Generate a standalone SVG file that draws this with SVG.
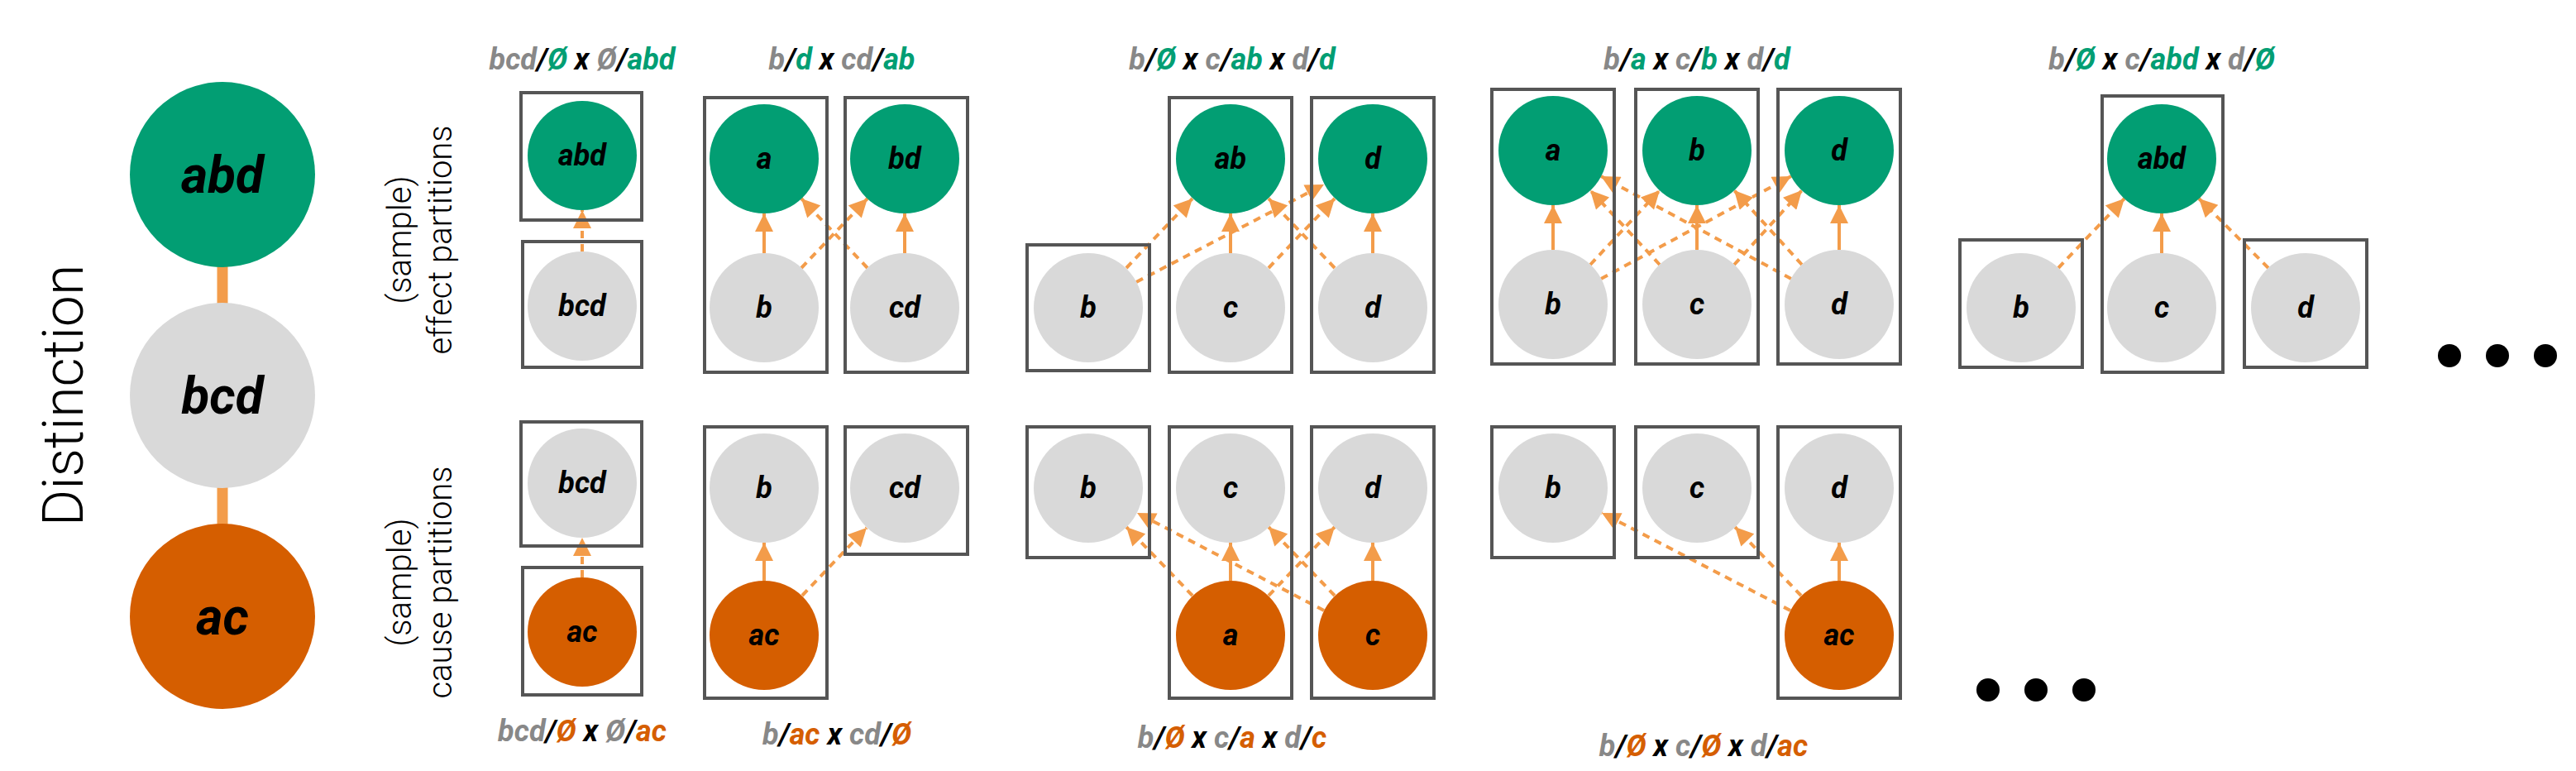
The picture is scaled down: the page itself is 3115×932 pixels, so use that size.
<svg xmlns="http://www.w3.org/2000/svg" width="3115" height="932" viewBox="0 0 3115 932">
<style>
.bx{fill:none;stroke:#555;stroke-width:4}
.g{fill:#029E73}.e{fill:#D9D9D9}.o{fill:#D55E00}
.nt{font-family:Roboto,"Liberation Sans",sans-serif;font-weight:bold;font-style:italic;font-size:36px;text-anchor:middle;fill:#000}
.big{font-size:62px}
.lb{font-family:Roboto,"Liberation Sans",sans-serif;font-weight:bold;font-style:italic;font-size:36px;text-anchor:middle;fill:#000}
.k{fill:#888}.G{fill:#029E73}.O{fill:#D55E00}
.side{font-family:Roboto,"Liberation Sans",sans-serif;font-weight:300;fill:#000;text-anchor:middle}
.s{stroke:#F39C4A;stroke-width:4;fill:none;marker-end:url(#ah)}
.d{stroke-dasharray:9 7}
</style>
<defs>
<marker id="ah" viewBox="0 0 10 10" markerUnits="userSpaceOnUse" markerWidth="24" markerHeight="22" refX="10" refY="5" orient="auto"><path d="M0,0 L10,5 L0,10 z" fill="#F39C4A"/></marker>
</defs>
<rect width="3115" height="932" fill="#fff"/>
<text class="side" font-size="68" transform="translate(100,478) rotate(-90)">Distinction</text>
<text class="side" font-size="40" transform="translate(497,290) rotate(-90)">(sample)</text>
<text class="side" font-size="40" transform="translate(546,290) rotate(-90)">effect partitions</text>
<text class="side" font-size="40" transform="translate(497,704) rotate(-90)">(sample)</text>
<text class="side" font-size="40" transform="translate(546,704) rotate(-90)">cause partitions</text>

<g id="connectors">
<line x1="269" y1="320" x2="269" y2="368" stroke="#F39C4A" stroke-width="13"/>
<line x1="269" y1="588" x2="269" y2="635" stroke="#F39C4A" stroke-width="13"/>
<line class="s d" x1="704" y1="304" x2="704" y2="254"/>
<line class="s" x1="924" y1="306" x2="924" y2="258"/>
<line class="s" x1="1094" y1="306" x2="1094" y2="258"/>
<line class="s d" x1="969" y1="324" x2="1049" y2="240"/>
<line class="s d" x1="1049" y1="324" x2="969" y2="240"/>
<line class="s" x1="1488" y1="306" x2="1488" y2="258"/>
<line class="s" x1="1660" y1="306" x2="1660" y2="258"/>
<line class="s d" x1="1362" y1="324" x2="1442" y2="240"/>
<line class="s d" x1="1374" y1="341" x2="1601" y2="223"/>
<line class="s d" x1="1534" y1="324" x2="1614" y2="240"/>
<line class="s d" x1="1614" y1="324" x2="1534" y2="240"/>
<line class="s" x1="1878" y1="302" x2="1878" y2="248"/>
<line class="s" x1="2052" y1="302" x2="2052" y2="248"/>
<line class="s" x1="2224" y1="302" x2="2224" y2="248"/>
<line class="s d" x1="1923" y1="320" x2="2007" y2="230"/>
<line class="s d" x1="2007" y1="320" x2="1923" y2="230"/>
<line class="s d" x1="2097" y1="320" x2="2179" y2="230"/>
<line class="s d" x1="2179" y1="320" x2="2097" y2="230"/>
<line class="s d" x1="1936" y1="337" x2="2166" y2="213"/>
<line class="s d" x1="2166" y1="337" x2="1936" y2="213"/>
<line class="s" x1="2614" y1="306" x2="2614" y2="258"/>
<line class="s d" x1="2489" y1="324" x2="2569" y2="240"/>
<line class="s d" x1="2743" y1="324" x2="2659" y2="240"/>
<line class="s d" x1="704" y1="698" x2="704" y2="650"/>
<line class="s" x1="924" y1="702" x2="924" y2="656"/>
<line class="s d" x1="970" y1="720" x2="1048" y2="638"/>
<line class="s" x1="1488" y1="702" x2="1488" y2="656"/>
<line class="s" x1="1660" y1="702" x2="1660" y2="656"/>
<line class="s d" x1="1442" y1="720" x2="1362" y2="637"/>
<line class="s d" x1="1601" y1="738" x2="1375" y2="620"/>
<line class="s d" x1="1534" y1="720" x2="1614" y2="637"/>
<line class="s d" x1="1614" y1="720" x2="1534" y2="637"/>
<line class="s" x1="2224" y1="702" x2="2224" y2="656"/>
<line class="s d" x1="2178" y1="720" x2="2098" y2="637"/>
<line class="s d" x1="2165" y1="738" x2="1937" y2="620"/>
</g>

<g id="distinction">
<circle class="g" cx="269" cy="211" r="112"/><text class="nt big" x="269" y="233">abd</text>
<circle class="e" cx="269" cy="478" r="112"/><text class="nt big" x="269" y="500">bcd</text>
<circle class="o" cx="269" cy="745" r="112"/><text class="nt big" x="269" y="767">ac</text>
</g>

<g id="labels">
<text class="lb" x="704" y="84"><tspan class="k">bcd</tspan>/<tspan class="G">Ø</tspan> x <tspan class="k">Ø</tspan>/<tspan class="G">abd</tspan></text>
<text class="lb" x="1018" y="84"><tspan class="k">b</tspan>/<tspan class="G">d</tspan> x <tspan class="k">cd</tspan>/<tspan class="G">ab</tspan></text>
<text class="lb" x="1490" y="84"><tspan class="k">b</tspan>/<tspan class="G">Ø</tspan> x <tspan class="k">c</tspan>/<tspan class="G">ab</tspan> x <tspan class="k">d</tspan>/<tspan class="G">d</tspan></text>
<text class="lb" x="2052" y="84"><tspan class="k">b</tspan>/<tspan class="G">a</tspan> x <tspan class="k">c</tspan>/<tspan class="G">b</tspan> x <tspan class="k">d</tspan>/<tspan class="G">d</tspan></text>
<text class="lb" x="2614" y="84"><tspan class="k">b</tspan>/<tspan class="G">Ø</tspan> x <tspan class="k">c</tspan>/<tspan class="G">abd</tspan> x <tspan class="k">d</tspan>/<tspan class="G">Ø</tspan></text>
<text class="lb" x="704" y="896"><tspan class="k">bcd</tspan>/<tspan class="O">Ø</tspan> x <tspan class="k">Ø</tspan>/<tspan class="O">ac</tspan></text>
<text class="lb" x="1012" y="900"><tspan class="k">b</tspan>/<tspan class="O">ac</tspan> x <tspan class="k">cd</tspan>/<tspan class="O">Ø</tspan></text>
<text class="lb" x="1490" y="904"><tspan class="k">b</tspan>/<tspan class="O">Ø</tspan> x <tspan class="k">c</tspan>/<tspan class="O">a</tspan> x <tspan class="k">d</tspan>/<tspan class="O">c</tspan></text>
<text class="lb" x="2060" y="914"><tspan class="k">b</tspan>/<tspan class="O">Ø</tspan> x <tspan class="k">c</tspan>/<tspan class="O">Ø</tspan> x <tspan class="k">d</tspan>/<tspan class="O">ac</tspan></text>
</g>

<g id="e1"><rect class="bx" x="630" y="112" width="146" height="154"/><circle class="g" cx="704" cy="188" r="66"/><text class="nt" x="704" y="200">abd</text>
<rect class="bx" x="632" y="292" width="144" height="152"/><circle class="e" cx="704" cy="370" r="66"/><text class="nt" x="704" y="382">bcd</text></g>
<g id="e2"><rect class="bx" x="852" y="118" width="148" height="332"/><circle class="g" cx="924" cy="192" r="66"/><text class="nt" x="924" y="204">a</text><circle class="e" cx="924" cy="372" r="66"/><text class="nt" x="924" y="384">b</text>
<rect class="bx" x="1022" y="118" width="148" height="332"/><circle class="g" cx="1094" cy="192" r="66"/><text class="nt" x="1094" y="204">bd</text><circle class="e" cx="1094" cy="372" r="66"/><text class="nt" x="1094" y="384">cd</text></g>
<g id="e3"><rect class="bx" x="1242" y="296" width="148" height="152"/><circle class="e" cx="1316" cy="372" r="66"/><text class="nt" x="1316" y="384">b</text>
<rect class="bx" x="1414" y="118" width="148" height="332"/><circle class="g" cx="1488" cy="192" r="66"/><text class="nt" x="1488" y="204">ab</text><circle class="e" cx="1488" cy="372" r="66"/><text class="nt" x="1488" y="384">c</text>
<rect class="bx" x="1586" y="118" width="148" height="332"/><circle class="g" cx="1660" cy="192" r="66"/><text class="nt" x="1660" y="204">d</text><circle class="e" cx="1660" cy="372" r="66"/><text class="nt" x="1660" y="384">d</text></g>
<g id="e4"><rect class="bx" x="1804" y="108" width="148" height="332"/><circle class="g" cx="1878" cy="182" r="66"/><text class="nt" x="1878" y="194">a</text><circle class="e" cx="1878" cy="368" r="66"/><text class="nt" x="1878" y="380">b</text>
<rect class="bx" x="1978" y="108" width="148" height="332"/><circle class="g" cx="2052" cy="182" r="66"/><text class="nt" x="2052" y="194">b</text><circle class="e" cx="2052" cy="368" r="66"/><text class="nt" x="2052" y="380">c</text>
<rect class="bx" x="2150" y="108" width="148" height="332"/><circle class="g" cx="2224" cy="182" r="66"/><text class="nt" x="2224" y="194">d</text><circle class="e" cx="2224" cy="368" r="66"/><text class="nt" x="2224" y="380">d</text></g>
<g id="e5"><rect class="bx" x="2370" y="290" width="148" height="154"/><circle class="e" cx="2444" cy="372" r="66"/><text class="nt" x="2444" y="384">b</text>
<rect class="bx" x="2542" y="116" width="146" height="334"/><circle class="g" cx="2614" cy="192" r="66"/><text class="nt" x="2614" y="204">abd</text><circle class="e" cx="2614" cy="372" r="66"/><text class="nt" x="2614" y="384">c</text>
<rect class="bx" x="2714" y="290" width="148" height="154"/><circle class="e" cx="2788" cy="372" r="66"/><text class="nt" x="2788" y="384">d</text></g>
<g id="dots1"><circle cx="2962" cy="430" r="14"/><circle cx="3020" cy="430" r="14"/><circle cx="3078" cy="430" r="14"/></g>

<g id="c1"><rect class="bx" x="630" y="510" width="146" height="150"/><circle class="e" cx="704" cy="584" r="66"/><text class="nt" x="704" y="596">bcd</text>
<rect class="bx" x="632" y="686" width="144" height="154"/><circle class="o" cx="704" cy="764" r="66"/><text class="nt" x="704" y="776">ac</text></g>
<g id="c2"><rect class="bx" x="852" y="516" width="148" height="328"/><circle class="e" cx="924" cy="590" r="66"/><text class="nt" x="924" y="602">b</text><circle class="o" cx="924" cy="768" r="66"/><text class="nt" x="924" y="780">ac</text>
<rect class="bx" x="1022" y="516" width="148" height="154"/><circle class="e" cx="1094" cy="590" r="66"/><text class="nt" x="1094" y="602">cd</text></g>
<g id="c3"><rect class="bx" x="1242" y="516" width="148" height="158"/><circle class="e" cx="1316" cy="590" r="66"/><text class="nt" x="1316" y="602">b</text>
<rect class="bx" x="1414" y="516" width="148" height="328"/><circle class="e" cx="1488" cy="590" r="66"/><text class="nt" x="1488" y="602">c</text><circle class="o" cx="1488" cy="768" r="66"/><text class="nt" x="1488" y="780">a</text>
<rect class="bx" x="1586" y="516" width="148" height="328"/><circle class="e" cx="1660" cy="590" r="66"/><text class="nt" x="1660" y="602">d</text><circle class="o" cx="1660" cy="768" r="66"/><text class="nt" x="1660" y="780">c</text></g>
<g id="c4"><rect class="bx" x="1804" y="516" width="148" height="158"/><circle class="e" cx="1878" cy="590" r="66"/><text class="nt" x="1878" y="602">b</text>
<rect class="bx" x="1978" y="516" width="148" height="158"/><circle class="e" cx="2052" cy="590" r="66"/><text class="nt" x="2052" y="602">c</text>
<rect class="bx" x="2150" y="516" width="148" height="328"/><circle class="e" cx="2224" cy="590" r="66"/><text class="nt" x="2224" y="602">d</text><circle class="o" cx="2224" cy="768" r="66"/><text class="nt" x="2224" y="780">ac</text></g>
<g id="dots2"><circle cx="2404" cy="834" r="14"/><circle cx="2462" cy="834" r="14"/><circle cx="2520" cy="834" r="14"/></g>
</svg>
